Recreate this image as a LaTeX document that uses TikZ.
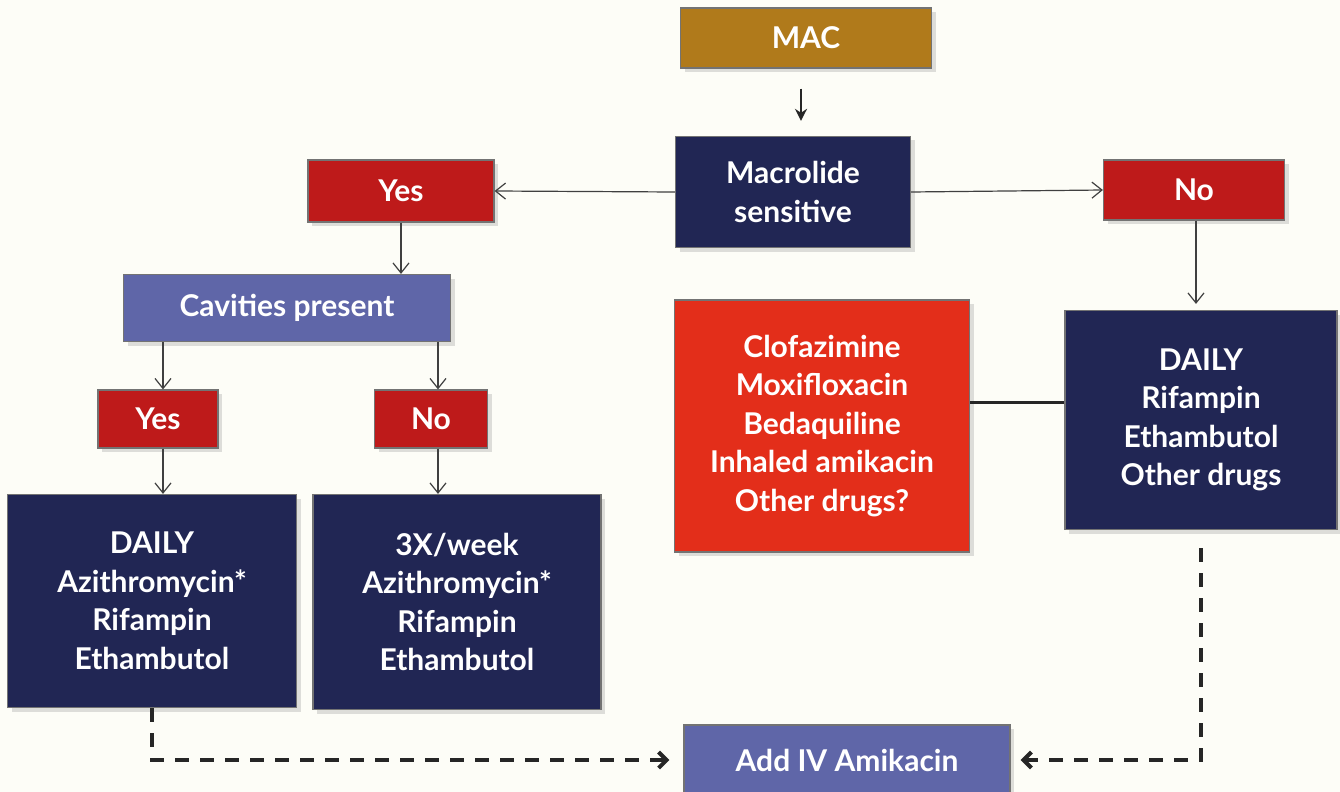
\documentclass[tikz,border=0pt]{standalone}
\usepackage{fontspec}
\setmainfont{Lato}
\usetikzlibrary{shadows,arrows.meta}
\definecolor{bgcream}{HTML}{FDFDF7}
\definecolor{macgold}{HTML}{B07A1B}
\definecolor{navy}{HTML}{212654}
\definecolor{answred}{HTML}{BE1A1A}
\definecolor{lavblue}{HTML}{5F66A8}
\definecolor{brightred}{HTML}{E32E1A}
\tikzset{
  box/.style={draw=black!55, line width=0.6pt, text=white, align=center, inner sep=0pt,
    font=\bfseries\fontsize{15}{19.25}\selectfont,
    drop shadow={shadow xshift=2pt, shadow yshift=-2pt, opacity=0.25}},
  goldbox/.style={box, fill=macgold},
  navybox/.style={box, fill=navy},
  answbox/.style={box, fill=answred},
  lavbox/.style={box, fill=lavblue},
  drugbox/.style={box, fill=brightred},
  thinarrow/.style={draw=black!75, line width=0.6pt, -{Straight Barb[length=5pt,width=8pt]}},
  dasharrow/.style={draw=black!85, line width=2pt, dash pattern=on 7pt off 5.5pt,
    -{Straight Barb[length=4pt,width=8pt]}}
}
\begin{document}
\begin{tikzpicture}[x=0.5pt,y=-0.5pt]
  \fill [bgcream] (0,0) rectangle (1340,792);
  \useasboundingbox (0,0) rectangle (1340,792);
  % top
  \node [goldbox, minimum width=125.5pt, minimum height=30pt] (mac) at (806,38) {MAC};
  \node [navybox, minimum width=117.5pt, minimum height=55.5pt] (macsens) at (793,192) {Macrolide\\sensitive};
  \node [answbox, minimum width=93pt, minimum height=31pt] (yestop) at (401,191) {Yes};
  \node [answbox, minimum width=90.5pt, minimum height=30pt] (notop) at (1194,190) {No};
  % left branch
  \node [lavbox, minimum width=163.5pt, minimum height=33.5pt] (cavities) at (287,308) {Cavities present};
  \node [answbox, minimum width=60pt, minimum height=29pt] (yescav) at (158,419) {Yes};
  \node [answbox, minimum width=56.5pt, minimum height=29pt] (nocav) at (431,419) {No};
  \node [navybox, minimum width=144.5pt, minimum height=106.5pt] (dailyl) at (152,601) {DAILY\\Azithromycin*\\Rifampin\\Ethambutol};
  \node [navybox, minimum width=144pt, minimum height=107.5pt] (weekly) at (457,602) {3X/week\\Azithromycin*\\Rifampin\\Ethambutol};
  % right branch
  \node [drugbox, minimum width=147.5pt, minimum height=126pt] (drugs) at (822,426) {Clofazimine\\Moxifloxacin\\Bedaquiline\\Inhaled amikacin\\Other drugs?};
  \node [navybox, minimum width=136pt, minimum height=109.5pt] (dailyr) at (1201,420) {DAILY\\Rifampin\\Ethambutol\\Other drugs};
  % bottom
  \node [lavbox, minimum width=163pt, minimum height=35pt] (amik) at (847,760) {Add IV Amikacin};
  % connectors
  \draw [line width=1.4pt, draw=black!85, -{Stealth[length=6pt,width=6pt]}, shorten <=10pt, shorten >=7.5pt]
    (mac.south -| 801,0) -- (macsens.north -| 801,0);
  \draw [thinarrow] (macsens.west) -- (yestop.east);
  \draw [thinarrow] (macsens.east) -- (notop.west);
  \draw [thinarrow] (yestop.south) -- (yestop.south |- cavities.north);
  \draw [thinarrow] (cavities.south -| 163,0) -- (yescav.north -| 163,0);
  \draw [thinarrow] (cavities.south -| 438,0) -- (nocav.north -| 438,0);
  \draw [thinarrow] (yescav.south -| 163,0) -- (dailyl.north -| 163,0);
  \draw [thinarrow] (nocav.south -| 438,0) -- (weekly.north -| 438,0);
  \draw [thinarrow, shorten >=3pt] (notop.south -| 1196,0) -- (dailyr.north -| 1196,0);
  \draw [line width=1.5pt, draw=black!85] ([yshift=12pt]drugs.east) -- ([yshift=12pt]drugs.east -| dailyr.west);
  \draw [dasharrow, shorten >=7pt] (dailyl.south) |- (amik.west);
  \draw [dasharrow, shorten <=9pt, shorten >=5pt] (dailyr.south) |- (amik.east);
\end{tikzpicture}
\end{document}
